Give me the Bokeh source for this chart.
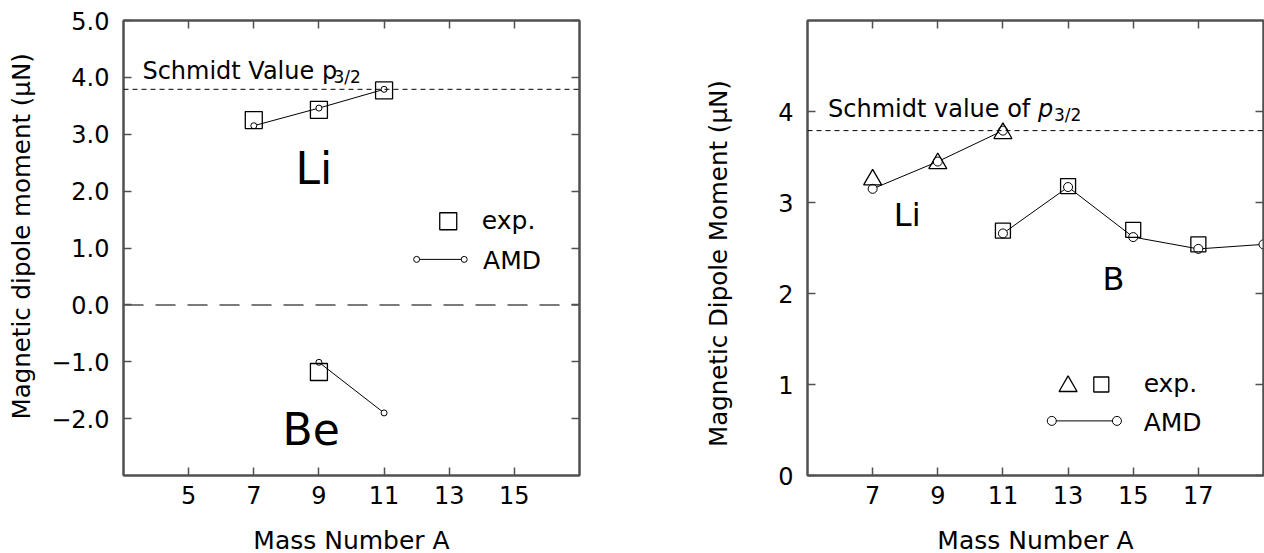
from bokeh.embed import file_html
from bokeh.layouts import row
from bokeh.models import FixedTicker, Label, LinearAxis, Range1d, Span
from bokeh.plotting import figure
from bokeh.resources import INLINE

FONT = "DejaVu Sans"
FRAME = "#505050"
NBSP = "\u00a0"

# ---- left panel: Li and Be isotopes ----
li_a = [7, 9, 11]
li_exp = [3.25, 3.43, 3.77]
li_amd = [3.15, 3.46, 3.79]
be_exp_a = [9]
be_exp = [-1.18]
be_amd_a = [9, 11]
be_amd = [-1.01, -1.90]
schmidt_p32 = 3.79

left_xticks = [5, 7, 9, 11, 13, 15]
left_yticks = [-2, -1, 0, 1, 2, 3, 4, 5]
left_ylabels = ["\u22122.0", "\u22121.0", "0.0", "1.0", "2.0", "3.0", "4.0", "5.0"]

# ---- right panel: Li and B isotopes ----
li_exp_r = [3.25, 3.43, 3.76]
li_amd_r = [3.15, 3.45, 3.79]
b_exp_a = [11, 13, 15, 17]
b_exp = [2.69, 3.18, 2.70, 2.54]
b_amd_a = [11, 13, 15, 17, 19]
b_amd = [2.66, 3.17, 2.62, 2.49, 2.54]

right_xticks = [7, 9, 11, 13, 15, 17]
right_yticks = [0, 1, 2, 3, 4]


def panel(xr, yr, xticks, yticks, border_left, border_right):
    p = figure(x_range=Range1d(*xr), y_range=Range1d(*yr),
               frame_width=456, frame_height=455,
               min_border_left=border_left, min_border_right=border_right,
               min_border_top=20, min_border_bottom=78,
               output_backend="svg", toolbar_location=None, tools="")
    p.grid.visible = False
    p.outline_line_color = FRAME
    p.outline_line_width = 2
    p.background_fill_color = "white"
    p.border_fill_color = "white"
    p.add_layout(LinearAxis(), "above")
    p.add_layout(LinearAxis(), "right")
    for ax in p.xaxis:
        ax.ticker = FixedTicker(ticks=xticks)
    for ax in p.yaxis:
        ax.ticker = FixedTicker(ticks=yticks)
    for ax in p.axis:
        ax.axis_line_color = FRAME
        ax.axis_line_width = 2
        ax.major_tick_in = 8
        ax.major_tick_out = 0
        ax.major_tick_line_color = FRAME
        ax.major_tick_line_width = 1.5
        ax.minor_tick_line_color = None
        ax.major_label_text_font = FONT
        ax.major_label_text_font_size = "24px"
        ax.major_label_text_color = "black"
        ax.axis_label_text_font = FONT
        ax.axis_label_text_font_style = "normal"
        ax.axis_label_text_color = "black"
    p.below[0].major_label_standoff = 10
    p.left[0].major_label_standoff = 14
    p.below[0].axis_label = "Mass Number A"
    p.below[0].axis_label_text_font_size = "25px"
    p.below[0].axis_label_standoff = 19
    p.left[0].axis_label_text_font_size = "24.5px"
    # the top and right axes only carry tick marks
    p.above[0].major_label_overrides = {t: "" for t in xticks}
    p.right[0].major_label_overrides = {t: "" for t in yticks}
    for ax in (p.above[0], p.right[0]):
        ax.major_label_standoff = 0
    return p


def label(p, x, y, text, size, style="normal", base=None, y_offset=0, **kw):
    # lift the anchor so that (x, y) sits on the text baseline
    lift = 0.33 * (base or size)
    p.add_layout(Label(x=x, y=y, text=text, text_font=FONT,
                       text_font_size=f"{size}px", text_font_style=style,
                       text_color="black", text_baseline="alphabetic",
                       y_offset=y_offset + lift, **kw))


# ================= left =================
pl = panel((3, 17), (-3, 5), left_xticks, left_yticks, 123, 61)
pl.left[0].major_label_overrides = dict(zip(left_yticks, left_ylabels))
# leading padding nudges the rotated title upward along the axis
pl.left[0].axis_label = NBSP * 3 + "Magnetic dipole moment (\u03bcN)"
pl.left[0].axis_label_standoff = 12

pl.add_layout(Span(location=schmidt_p32, dimension="width", line_color="black",
                   line_width=1, line_dash="5 4"))
pl.add_layout(Span(location=0, dimension="width", line_color=FRAME,
                   line_width=1.5, line_dash="20 12"))

pl.line(li_a, li_amd, line_color="black", line_width=1)
pl.scatter(li_a, li_amd, marker="circle", size=6, fill_color="white",
           line_color="black", line_width=1)
pl.scatter(li_a, li_exp, marker="square", size=17, fill_color=None,
           line_color="black", line_width=1.3)
pl.line(be_amd_a, be_amd, line_color="black", line_width=1)
pl.scatter(be_amd_a, be_amd, marker="circle", size=6, fill_color="white",
           line_color="black", line_width=1)
pl.scatter(be_exp_a, be_exp, marker="square", size=17, fill_color=None,
           line_color="black", line_width=1.3)

label(pl, 3.58, 3.98, "Schmidt Value p", 24)
label(pl, 3.58, 3.98, "3/2", 17, base=24, x_offset=191, y_offset=-6)
label(pl, 8.28, 2.15, "Li", 44)
label(pl, 7.88, -2.44, "Be", 44)

# legend
pl.scatter([12.97], [1.47], marker="square", size=17, fill_color=None,
           line_color="black", line_width=1.3)
label(pl, 14.0, 1.34, "exp.", 25)
pl.line([12.0, 13.46], [0.80, 0.80], line_color="black", line_width=1)
pl.scatter([12.0, 13.46], [0.80, 0.80], marker="circle", size=6,
           fill_color="white", line_color="black", line_width=1)
label(pl, 14.04, 0.64, "AMD", 25)

# ================= right =================
pr = panel((5, 19), (0, 5), right_xticks, right_yticks, 167, 1)
# trailing padding nudges the rotated title downward along the axis
pr.left[0].axis_label = "Magnetic Dipole Moment (\u03bcN)" + NBSP * 4
pr.left[0].axis_label_standoff = 42

pr.add_layout(Span(location=schmidt_p32, dimension="width", line_color="black",
                   line_width=1, line_dash="5 4"))

pr.line(li_a, li_amd_r, line_color="black", line_width=1)
pr.scatter(li_a, li_amd_r, marker="circle", size=9, fill_color="white",
           line_color="black", line_width=1)
pr.scatter(li_a, li_exp_r, marker="triangle", size=18, fill_color=None,
           line_color="black", line_width=1.3)
pr.line(b_amd_a, b_amd, line_color="black", line_width=1)
pr.scatter(b_amd_a, b_amd, marker="circle", size=9, fill_color="white",
           line_color="black", line_width=1)
pr.scatter(b_exp_a, b_exp, marker="square", size=15, fill_color=None,
           line_color="black", line_width=1.3)

label(pr, 5.63, 3.94, "Schmidt value of ", 24)
label(pr, 5.63, 3.94, "p", 24, style="italic", x_offset=210)
label(pr, 5.63, 3.94, "3/2", 17, base=24, x_offset=226, y_offset=-6)
label(pr, 7.65, 2.75, "Li", 32)
label(pr, 14.06, 2.04, "B", 32)

# legend
pr.scatter([13.0], [0.98], marker="triangle", size=18, fill_color=None,
           line_color="black", line_width=1.3)
pr.scatter([14.02], [1.0], marker="square", size=15, fill_color=None,
           line_color="black", line_width=1.3)
label(pr, 15.32, 0.92, "exp.", 25)
pr.line([12.5, 14.5], [0.6, 0.6], line_color="black", line_width=1)
pr.scatter([12.5, 14.5], [0.6, 0.6], marker="circle", size=9,
           fill_color="white", line_color="black", line_width=1)
label(pr, 15.32, 0.49, "AMD", 25)

layout = row(pl, pr)
open("out.html", "w").write(file_html(layout, INLINE))
